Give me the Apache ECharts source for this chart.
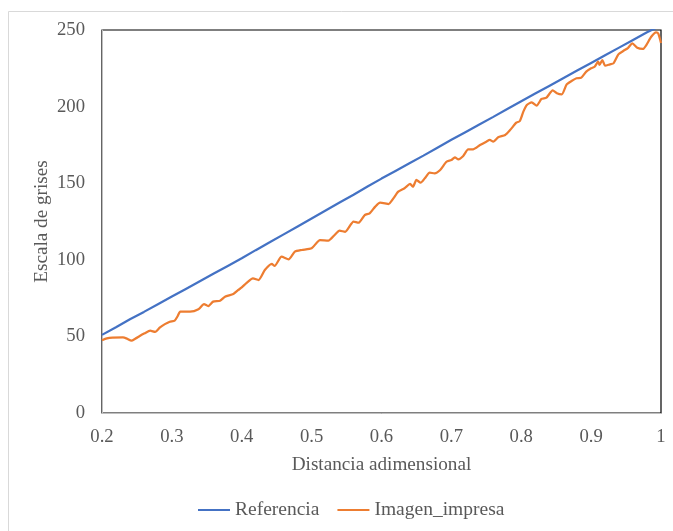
<!DOCTYPE html>
<html>
<head>
<meta charset="utf-8">
<script src="https://cdn.jsdelivr.net/npm/echarts@6/dist/echarts.min.js"></script>
<style>
html,body{margin:0;padding:0;background:#fff;}
#chart{width:673px;height:531px;}
</style>
</head>
<body>
<div id="chart"></div>
<script>
const seriesNames = ['Referencia', 'Imagen_impresa'];

const blueX = [0.20,0.22,0.24,0.26,0.28,0.30,0.32,0.34,0.36,0.38,0.40,0.42,0.44,0.46,0.48,0.50,0.52,0.54,0.56,0.58,0.60,0.62,0.64,0.66,0.68,0.70,0.72,0.74,0.76,0.78,0.80,0.82,0.84,0.86,0.88,0.90,0.92,0.94,0.96,0.98,1.00];
const blueY = [51,56,61.2,66,71,76,81,86,91,96,101,106.3,111.4,116.6,121.8,127,132.2,137.4,142.5,147.8,153,158,163,168,173.2,178.3,183.3,188.3,193.3,198.4,203.5,208.5,213.5,218.5,223.5,228.5,233.5,238.5,243.5,248.5,253];

const orangeX = [0.200,0.207,0.215,0.230,0.236,0.242,0.248,0.254,0.261,0.269,0.276,0.283,0.290,0.297,0.304,0.308,0.312,0.326,0.338,0.346,0.352,0.359,0.369,0.376,0.388,0.395,0.400,0.407,0.416,0.424,0.433,0.443,0.447,0.457,0.467,0.476,0.486,0.500,0.512,0.524,0.533,0.540,0.548,0.560,0.567,0.576,0.583,0.591,0.598,0.605,0.610,0.617,0.624,0.633,0.641,0.645,0.650,0.656,0.662,0.669,0.676,0.684,0.693,0.700,0.705,0.710,0.717,0.724,0.731,0.741,0.750,0.755,0.760,0.767,0.777,0.784,0.793,0.798,0.803,0.808,0.815,0.822,0.829,0.836,0.845,0.851,0.858,0.865,0.872,0.879,0.886,0.893,0.900,0.905,0.910,0.912,0.916,0.920,0.927,0.932,0.939,0.946,0.953,0.959,0.966,0.974,0.979,0.986,0.993,0.996,1.000];
const orangeY = [47.5,48.7,49.2,49.4,48.5,47.2,48.6,50.3,52,53.7,53,55.9,58,59.6,60.3,63,66.1,66.1,67.7,71.1,69.8,72.7,73.3,75.9,77.7,80.3,82,85,87.9,86.8,93.3,97.3,96,102,100.3,105.3,106.4,107.5,112.9,112.5,116.2,119,118.3,124.9,124.2,129.2,130.3,134.7,137.3,136.9,136.4,140.1,144.5,146.7,149.5,147.7,152.1,150.3,153.2,156.9,156.4,158.6,164,165.1,166.9,165.6,167.8,172.1,172.1,174.9,177.1,178.2,177.1,180,181.5,184.7,189.5,190.6,196.7,201,202.8,200.6,205,205.8,210.6,208.7,208,214.5,216.7,218.5,218.9,222.8,225,226,229.3,227.2,230.4,226.7,227.6,228.2,234.1,236.3,238.4,241.3,238.4,237.6,240.2,245.6,248.5,247.8,241.5];

const xTicks = {min: 0.2, max: 1, interval: 0.1};
const yTicks = {min: 0, max: 250, interval: 50};

const pairs = (xs, ys) => xs.map((x, i) => [x, ys[i]]);
const font = 'Liberation Serif';
const txt = '#595959';

const chart = echarts.init(document.getElementById('chart'), null, {renderer: 'canvas'});
chart.setOption({
  animation: false,
  backgroundColor: '#fff',
  graphic: [{
    type: 'rect', left: 6, top: 9, z: -10,
    shape: {x: 0.5, y: 0.5, width: 672, height: 526},
    style: {fill: 'none', stroke: '#d9d9d9', lineWidth: 1}
  }],
  grid: {left: 102, right: 12, top: 30, bottom: 118, show: true, borderColor: '#000', borderWidth: 1.2, backgroundColor: 'transparent'},
  legend: {
    bottom: 11, left: 198, padding: 0, itemWidth: 32, itemHeight: 2, itemGap: 18,
    icon: 'rect',
    textStyle: {fontFamily: font, fontSize: 19.5, color: txt},
    data: seriesNames
  },
  xAxis: {
    type: 'value', min: xTicks.min, max: xTicks.max, interval: xTicks.interval,
    name: 'Distancia adimensional', nameLocation: 'middle', nameGap: 42,
    nameTextStyle: {fontFamily: font, fontSize: 19.2, color: txt},
    axisLine: {show: true, lineStyle: {color: '#bfbfbf', width: 1}},
    axisTick: {show: false}, splitLine: {show: false},
    axisLabel: {fontFamily: font, fontSize: 18.7, color: txt, margin: 15,
      formatter: v => String(Number(v.toFixed(1)))}
  },
  yAxis: {
    type: 'value', min: yTicks.min, max: yTicks.max, interval: yTicks.interval,
    name: 'Escala de grises', nameLocation: 'middle', nameGap: 51, nameMoveOverlap: false,
    nameTextStyle: {fontFamily: font, fontSize: 19.2, color: txt},
    axisLine: {show: true, lineStyle: {color: '#bfbfbf', width: 1}},
    axisTick: {show: false}, splitLine: {show: false},
    axisLabel: {fontFamily: font, fontSize: 18.7, color: txt, margin: 17}
  },
  series: [
    {name: seriesNames[0], type: 'line', data: pairs(blueX, blueY), showSymbol: false, clip: true,
      lineStyle: {color: '#4472C4', width: 2.25}, itemStyle: {color: '#4472C4'}},
    {name: seriesNames[1], type: 'line', data: pairs(orangeX, orangeY), showSymbol: false, clip: true, smooth: 0.2,
      lineStyle: {color: '#ED7D31', width: 2.25}, itemStyle: {color: '#ED7D31'}}
  ]
});
</script>
</body>
</html>
